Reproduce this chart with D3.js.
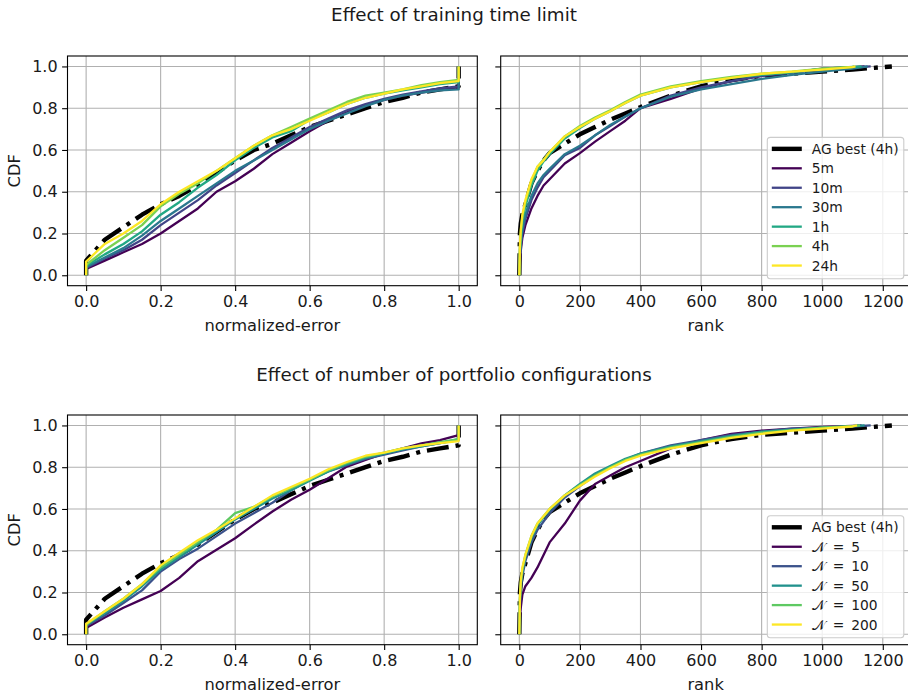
<!DOCTYPE html>
<html>
<head>
<meta charset="utf-8">
<script src="https://cdn.jsdelivr.net/npm/d3@7"></script>
<style>
  body { margin: 0; background: #fff; }
  text { font-family: "DejaVu Sans", sans-serif; }
</style>
</head>
<body>
<svg id="fig" width="908" height="694"></svg>
<script>
// ---- data ----
const errGrid = [0, 0.05, 0.1, 0.15, 0.2, 0.25, 0.3, 0.35, 0.4, 0.45, 0.5,
                 0.55, 0.6, 0.65, 0.7, 0.75, 0.8, 0.85, 0.9, 0.95, 1.0];
const rankGrid = [0, 2, 5, 10, 20, 40, 60, 80, 100, 150, 200, 250, 300, 350,
                  400, 500, 600, 700, 800, 900, 1000, 1100];

// AG best (4h) baseline, shared by both rows
const agErr = [0.07, 0.17, 0.23, 0.29, 0.34, 0.38, 0.43, 0.49, 0.55, 0.60, 0.63,
               0.67, 0.71, 0.74, 0.77, 0.80, 0.83, 0.85, 0.875, 0.89, 0.905];
const agRank = [0, 0.2, 0.25, 0.29, 0.34, 0.44, 0.50, 0.55, 0.585, 0.63, 0.675,
                0.71, 0.745, 0.775, 0.805, 0.86, 0.905, 0.935, 0.955, 0.965, 0.975, 0.985];
const agRankEnd = 1230;

// training time limit
const timeLabels = ["5m", "10m", "30m", "1h", "4h", "24h"];
const timeErr = [
  [0.03, 0.07, 0.11, 0.15, 0.20, 0.26, 0.32, 0.40, 0.45, 0.51, 0.58, 0.635, 0.69, 0.74, 0.78, 0.815, 0.84, 0.86, 0.875, 0.89, 0.90],
  [0.035, 0.08, 0.12, 0.17, 0.24, 0.30, 0.36, 0.43, 0.49, 0.55, 0.61, 0.66, 0.71, 0.75, 0.79, 0.82, 0.845, 0.865, 0.88, 0.895, 0.905],
  [0.04, 0.085, 0.13, 0.19, 0.26, 0.32, 0.38, 0.44, 0.50, 0.55, 0.60, 0.65, 0.70, 0.74, 0.775, 0.81, 0.84, 0.86, 0.875, 0.885, 0.89],
  [0.045, 0.10, 0.15, 0.21, 0.29, 0.35, 0.42, 0.48, 0.55, 0.61, 0.66, 0.69, 0.745, 0.78, 0.82, 0.85, 0.87, 0.885, 0.90, 0.915, 0.925],
  [0.05, 0.12, 0.18, 0.24, 0.33, 0.39, 0.44, 0.50, 0.56, 0.62, 0.67, 0.71, 0.75, 0.79, 0.83, 0.86, 0.875, 0.89, 0.91, 0.925, 0.935],
  [0.065, 0.15, 0.20, 0.26, 0.34, 0.40, 0.45, 0.50, 0.56, 0.62, 0.67, 0.70, 0.74, 0.78, 0.82, 0.85, 0.87, 0.89, 0.905, 0.92, 0.93]
];
const timeRank = [
  [0, 0.07, 0.12, 0.18, 0.24, 0.32, 0.38, 0.43, 0.46, 0.535, 0.585, 0.64, 0.69, 0.74, 0.80, 0.845, 0.895, 0.93, 0.955, 0.97, 0.99, 0.997],
  [0, 0.09, 0.14, 0.20, 0.27, 0.36, 0.42, 0.47, 0.50, 0.575, 0.61, 0.67, 0.715, 0.76, 0.80, 0.86, 0.90, 0.93, 0.955, 0.97, 0.985, 0.995],
  [0, 0.10, 0.16, 0.22, 0.29, 0.38, 0.44, 0.48, 0.51, 0.58, 0.62, 0.67, 0.72, 0.76, 0.80, 0.855, 0.89, 0.915, 0.94, 0.96, 0.975, 0.99],
  [0, 0.12, 0.19, 0.26, 0.33, 0.43, 0.50, 0.545, 0.58, 0.655, 0.705, 0.75, 0.785, 0.825, 0.86, 0.90, 0.925, 0.945, 0.96, 0.972, 0.988, 0.998],
  [0, 0.13, 0.21, 0.28, 0.35, 0.45, 0.52, 0.555, 0.59, 0.665, 0.715, 0.755, 0.79, 0.83, 0.865, 0.905, 0.93, 0.95, 0.965, 0.975, 0.99, 0.998],
  [0, 0.15, 0.22, 0.29, 0.36, 0.46, 0.52, 0.55, 0.59, 0.665, 0.71, 0.75, 0.785, 0.825, 0.86, 0.90, 0.925, 0.945, 0.965, 0.975, 0.985, 0.997]
];
const timeRankEnd = [1140, 1160, 1150, 1130, 1105, 1110];

// number of portfolio configurations
const nLabels = ["5", "10", "50", "100", "200"];
const nErr = [
  [0.03, 0.08, 0.127, 0.167, 0.207, 0.27, 0.35, 0.405, 0.46, 0.525, 0.588, 0.644, 0.692, 0.747, 0.803, 0.835, 0.866, 0.89, 0.914, 0.93, 0.954],
  [0.04, 0.09, 0.15, 0.21, 0.30, 0.36, 0.41, 0.47, 0.53, 0.58, 0.63, 0.69, 0.74, 0.78, 0.81, 0.84, 0.86, 0.88, 0.90, 0.915, 0.935],
  [0.045, 0.10, 0.16, 0.23, 0.31, 0.37, 0.43, 0.49, 0.55, 0.60, 0.65, 0.69, 0.735, 0.78, 0.815, 0.845, 0.865, 0.885, 0.90, 0.915, 0.93],
  [0.045, 0.11, 0.17, 0.24, 0.32, 0.38, 0.44, 0.50, 0.58, 0.61, 0.66, 0.70, 0.74, 0.785, 0.82, 0.85, 0.87, 0.89, 0.905, 0.92, 0.935],
  [0.05, 0.11, 0.17, 0.24, 0.33, 0.39, 0.45, 0.50, 0.555, 0.61, 0.665, 0.705, 0.745, 0.79, 0.825, 0.855, 0.87, 0.89, 0.905, 0.915, 0.925]
];
const nRank = [
  [0, 0.08, 0.13, 0.19, 0.23, 0.27, 0.32, 0.38, 0.44, 0.53, 0.64, 0.72, 0.76, 0.80, 0.83, 0.89, 0.93, 0.96, 0.975, 0.985, 0.993, 0.998],
  [0, 0.14, 0.22, 0.28, 0.35, 0.44, 0.50, 0.54, 0.58, 0.655, 0.71, 0.76, 0.80, 0.835, 0.865, 0.905, 0.93, 0.955, 0.97, 0.985, 0.99, 0.995],
  [0, 0.16, 0.24, 0.30, 0.37, 0.46, 0.52, 0.56, 0.595, 0.665, 0.72, 0.77, 0.805, 0.84, 0.865, 0.90, 0.925, 0.95, 0.97, 0.98, 0.99, 0.997],
  [0, 0.17, 0.25, 0.31, 0.38, 0.47, 0.53, 0.565, 0.60, 0.665, 0.715, 0.76, 0.80, 0.835, 0.86, 0.895, 0.92, 0.945, 0.965, 0.978, 0.99, 0.997],
  [0, 0.18, 0.26, 0.32, 0.38, 0.47, 0.53, 0.565, 0.60, 0.665, 0.71, 0.755, 0.795, 0.83, 0.855, 0.89, 0.915, 0.94, 0.96, 0.975, 0.985, 0.995]
];
const nRankEnd = [1130, 1160, 1140, 1125, 1115];

const cdfTicks = [0, 0.2, 0.4, 0.6, 0.8, 1.0];
const errTicks = [0, 0.2, 0.4, 0.6, 0.8, 1.0];
const rankTicks = [0, 200, 400, 600, 800, 1000, 1200];

// ---- helpers ----
// error CDF: vertical jump at 0, grid values, jump to 1 at error = 1
function errPoints(vals) {
  let pts = [[0, 0]];
  errGrid.forEach((x, i) => pts.push([x, vals[i]]));
  pts.push([1, 1]);
  return pts;
}
function rankPoints(vals, end) {
  let pts = [];
  rankGrid.forEach((r, i) => { if (r < end) pts.push([r, vals[i]]); });
  pts.push([end, 1]);
  return pts;
}

const svg = d3.select("#fig");
const W = 409.8, H = 229.7;
const lw = 2.3;
const tickFont = 16, labelFont = 16.3;

function drawPanel(left, top, kind, series, showY, xlabel, legend) {
  let g = svg.append("g").attr("transform", `translate(${left},${top})`);
  let x = kind === "err"
    ? d3.scaleLinear().domain([-0.05, 1.05]).range([0, W])
    : d3.scaleLinear().domain([-61.5, 1291.5]).range([0, W]);
  let y = d3.scaleLinear().domain([-0.05, 1.05]).range([H, 0]);
  let xt = kind === "err" ? errTicks : rankTicks;

  // grid
  g.append("g").selectAll("line").data(xt).join("line")
    .attr("x1", d => x(d)).attr("x2", d => x(d)).attr("y1", 0).attr("y2", H)
    .attr("stroke", "#b0b0b0").attr("stroke-width", 1.1);
  g.append("g").selectAll("line").data(cdfTicks).join("line")
    .attr("x1", 0).attr("x2", W).attr("y1", d => y(d)).attr("y2", d => y(d))
    .attr("stroke", "#b0b0b0").attr("stroke-width", 1.1);

  // lines
  let line = d3.line().x(d => x(d[0])).y(d => y(d[1]));
  series.forEach(s => {
    g.append("path").datum(s.pts)
      .attr("d", line)
      .attr("fill", "none")
      .attr("stroke", s.color)
      .attr("stroke-width", s.ag ? 4.4 : lw)
      .attr("stroke-dasharray", s.ag ? "22,7,4,7" : null)
      .attr("stroke-linejoin", "round");
  });

  // axes
  let ax = d3.axisBottom(x).tickValues(xt).tickSize(5.4).tickPadding(4.5)
    .tickFormat(kind === "err" ? d3.format(".1f") : d3.format("d"));
  let xg = g.append("g").attr("transform", `translate(0,${H})`).call(ax);
  let ay = d3.axisLeft(y).tickValues(cdfTicks).tickSize(5.4).tickPadding(4.5)
    .tickFormat(showY ? d3.format(".1f") : () => "");
  let yg = g.append("g").call(ay);
  [xg, yg].forEach(a => {
    a.select(".domain").remove();
    a.selectAll(".tick line").attr("stroke", "#000").attr("stroke-width", 1.1);
    a.selectAll("text").attr("font-size", tickFont).attr("fill", "#1a1a1a");
  });
  xg.selectAll("text").attr("dy", "0.71em");

  // frame
  g.append("rect").attr("width", W).attr("height", H)
    .attr("fill", "none").attr("stroke", "#000").attr("stroke-width", 1.1);

  // labels
  g.append("text").attr("x", W / 2).attr("y", H + 45.5)
    .attr("text-anchor", "middle").attr("font-size", labelFont).attr("fill", "#1a1a1a")
    .text(xlabel);
  if (showY) {
    g.append("text")
      .attr("transform", `translate(${-48},${H / 2}) rotate(-90)`)
      .attr("text-anchor", "middle").attr("font-size", labelFont).attr("fill", "#1a1a1a")
      .text("CDF");
  }

  if (legend) {
    let rowH = 19.45;
    let bh = series.length * rowH + 5.2, bw = 136.5;
    let bx = 767.3 - left, by = H - 7 - bh;
    let lg = g.append("g").attr("transform", `translate(${bx},${by})`);
    lg.append("rect").attr("width", bw).attr("height", bh).attr("rx", 3)
      .attr("fill", "#fff").attr("fill-opacity", 0.8)
      .attr("stroke", "#cccccc").attr("stroke-width", 1.1);
    series.forEach((s, i) => {
      let cy = 11.5 + i * rowH;
      lg.append("line").attr("x1", 4.5).attr("x2", 34.5).attr("y1", cy).attr("y2", cy)
        .attr("stroke", s.color).attr("stroke-width", s.ag ? 4.4 : lw);
      let t = lg.append("text").attr("y", cy).attr("dy", "0.36em")
        .attr("font-size", 13.8).attr("fill", "#1a1a1a");
      if (s.n) {
        // mathcal N, "=", and the count spaced like the mathtext original
        t.append("tspan").attr("x", 44.5).text("\u{1D4A9}");
        t.append("tspan").attr("x", 65.5).text("=");
        t.append("tspan").attr("x", 84).text(s.n);
      } else {
        t.attr("x", 44.5).text(s.label);
      }
    });
  }
}

function buildSeries(labels, errVals, rankVals, rankEnd, kind, isN) {
  let n = labels.length;
  let out = [{
    label: "AG best (4h)", color: "#000", ag: true,
    pts: kind === "err" ? errPoints(agErr) : rankPoints(agRank, agRankEnd)
  }];
  labels.forEach((l, i) => {
    out.push({
      label: l,
      n: isN ? l : null,
      color: d3.interpolateViridis(i / (n - 1)),
      pts: kind === "err" ? errPoints(errVals[i]) : rankPoints(rankVals[i], rankEnd[i])
    });
  });
  return out;
}

// titles
svg.append("text").attr("x", 454).attr("y", 21).attr("text-anchor", "middle")
  .attr("font-size", 18.3).attr("fill", "#1a1a1a").text("Effect of training time limit");
svg.append("text").attr("x", 454).attr("y", 381).attr("text-anchor", "middle")
  .attr("font-size", 18.3).attr("fill", "#1a1a1a").text("Effect of number of portfolio configurations");

drawPanel(67.5, 56, "err", buildSeries(timeLabels, timeErr, timeRank, timeRankEnd, "err", false), true, "normalized-error", false);
drawPanel(500.7, 56, "rank", buildSeries(timeLabels, timeErr, timeRank, timeRankEnd, "rank", false), false, "rank", true);
drawPanel(67.5, 415, "err", buildSeries(nLabels, nErr, nRank, nRankEnd, "err", true), true, "normalized-error", false);
drawPanel(500.7, 415, "rank", buildSeries(nLabels, nErr, nRank, nRankEnd, "rank", true), false, "rank", true);
</script>
</body>
</html>
